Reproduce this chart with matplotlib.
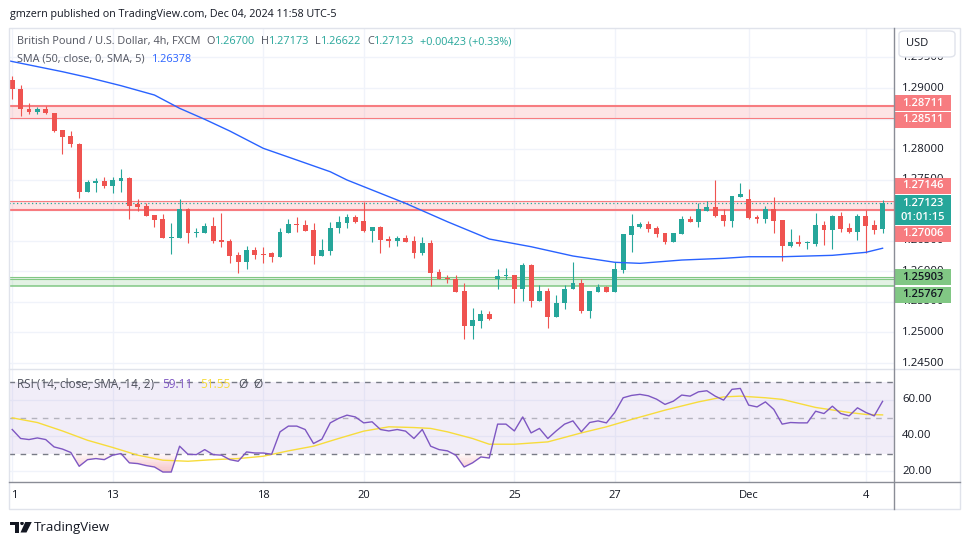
import numpy as np
import matplotlib
matplotlib.use("Agg")
import matplotlib.pyplot as plt
import matplotlib.transforms as mtransforms
from matplotlib.patches import Rectangle, FancyBboxPatch, Polygon, Circle
from matplotlib.lines import Line2D

# ---------------- data (GBP/USD 4h, FXCM) ----------------
opens = [1.29131, 1.28979, 1.28651, 1.28612, 1.28651, 1.28586, 1.28313, 1.28214, 1.28084, 1.27303,
         1.27450, 1.27478, 1.27401, 1.27483, 1.27532, 1.27097, 1.27074, 1.26922, 1.26856, 1.26545,
         1.26550, 1.27020, 1.26627, 1.26632, 1.26747, 1.26513, 1.26496, 1.26267, 1.26157, 1.26349,
         1.26288, 1.26295, 1.26239, 1.26632, 1.26779, 1.26758, 1.26676, 1.26251, 1.26338, 1.26704,
         1.26796, 1.26884, 1.26824, 1.26665, 1.26730, 1.26529, 1.26501, 1.26545, 1.26496, 1.26305,
         1.26468, 1.25989, 1.25886, 1.25874, 1.25678, 1.25110, 1.25192, 1.25302, 1.25874, 1.25928,
         1.25940, 1.25716, 1.26104, 1.25519, 1.25678, 1.25258, 1.25477, 1.25706, 1.25804, 1.25356,
         1.25667, 1.25748, 1.25667, 1.26022, 1.26595, 1.26730, 1.26774, 1.26714, 1.26632, 1.26488,
         1.26611, 1.26856, 1.26812, 1.26992, 1.27053, 1.26922, 1.26829, 1.27221, 1.27184, 1.26894,
         1.26851, 1.27015, 1.26840, 1.26419, 1.26480, 1.26468, 1.26452, 1.26758, 1.26676, 1.26905,
         1.26714, 1.26644, 1.26905, 1.26758, 1.26700]
highs = [1.29196, 1.29049, 1.28750, 1.28694, 1.28710, 1.28586, 1.28313, 1.28296, 1.28095, 1.27495,
         1.27532, 1.27548, 1.27548, 1.27674, 1.27548, 1.27184, 1.27123, 1.26922, 1.26938, 1.26786,
         1.27184, 1.27031, 1.26704, 1.26786, 1.26894, 1.26959, 1.26529, 1.26311, 1.26414, 1.26393,
         1.26393, 1.26316, 1.26704, 1.26851, 1.26894, 1.26836, 1.26786, 1.26529, 1.26802, 1.26908,
         1.26938, 1.26922, 1.27130, 1.26730, 1.26747, 1.26578, 1.26578, 1.26595, 1.26578, 1.26567,
         1.26513, 1.26043, 1.25940, 1.25940, 1.25804, 1.25405, 1.25367, 1.25351, 1.26038, 1.26050,
         1.25940, 1.26141, 1.26120, 1.25771, 1.25722, 1.25613, 1.25776, 1.26153, 1.25870, 1.25678,
         1.25793, 1.25765, 1.26157, 1.26611, 1.26938, 1.26812, 1.26829, 1.26742, 1.26632, 1.26632,
         1.26905, 1.26905, 1.27113, 1.27151, 1.27495, 1.27015, 1.27233, 1.27450, 1.27347, 1.26930,
         1.27074, 1.27221, 1.26840, 1.26688, 1.26595, 1.26496, 1.26955, 1.26829, 1.26922, 1.26976,
         1.26786, 1.26938, 1.27004, 1.26840, 1.27173]
lows = [1.28815, 1.28547, 1.28570, 1.28570, 1.28570, 1.28285, 1.27915, 1.28039, 1.27195, 1.27303,
        1.27303, 1.27359, 1.27287, 1.27303, 1.26861, 1.26992, 1.26910, 1.26730, 1.26550, 1.26283,
        1.26550, 1.26463, 1.26567, 1.26632, 1.26468, 1.26403, 1.26141, 1.25968, 1.26038, 1.26202,
        1.26131, 1.26148, 1.26234, 1.26632, 1.26648, 1.26665, 1.26120, 1.26246, 1.26272, 1.26622,
        1.26714, 1.26796, 1.26639, 1.26488, 1.26305, 1.26403, 1.26419, 1.26488, 1.26223, 1.26262,
        1.25760, 1.25870, 1.25814, 1.25667, 1.24886, 1.24888, 1.25078, 1.25204, 1.25706, 1.25874,
        1.25487, 1.25519, 1.25421, 1.25519, 1.25068, 1.25248, 1.25379, 1.25706, 1.25313, 1.25241,
        1.25667, 1.25667, 1.25667, 1.25978, 1.26321, 1.26704, 1.26639, 1.26570, 1.26455, 1.26475,
        1.26611, 1.26812, 1.26720, 1.26992, 1.26894, 1.26736, 1.26720, 1.27221, 1.26856, 1.26796,
        1.26786, 1.26622, 1.26174, 1.26403, 1.26419, 1.26365, 1.26419, 1.26431, 1.26361, 1.26648,
        1.26622, 1.26513, 1.26295, 1.26606, 1.26622]
closes = [1.28979, 1.28651, 1.28612, 1.28656, 1.28586, 1.28301, 1.28203, 1.28079, 1.27303, 1.27457,
          1.27478, 1.27401, 1.27495, 1.27532, 1.27074, 1.27058, 1.26910, 1.26840, 1.26550, 1.26557,
          1.27020, 1.26632, 1.26648, 1.26747, 1.26496, 1.26480, 1.26256, 1.26153, 1.26349, 1.26267,
          1.26272, 1.26239, 1.26648, 1.26774, 1.26758, 1.26665, 1.26251, 1.26349, 1.26704, 1.26802,
          1.26884, 1.26812, 1.26665, 1.26720, 1.26513, 1.26501, 1.26545, 1.26488, 1.26305, 1.26468,
          1.25978, 1.25870, 1.25870, 1.25667, 1.25110, 1.25204, 1.25302, 1.25220, 1.25924, 1.25935,
          1.25716, 1.26104, 1.25519, 1.25678, 1.25258, 1.25477, 1.25711, 1.25804, 1.25356, 1.25678,
          1.25748, 1.25667, 1.26038, 1.26611, 1.26742, 1.26774, 1.26693, 1.26611, 1.26488, 1.26632,
          1.26856, 1.26812, 1.27015, 1.27053, 1.26910, 1.26829, 1.27233, 1.27265, 1.26878, 1.26851,
          1.27015, 1.26829, 1.26419, 1.26480, 1.26442, 1.26480, 1.26758, 1.26676, 1.26905, 1.26693,
          1.26644, 1.26905, 1.26747, 1.26676, 1.27123]

# SMA(50) read at selected bars
sma_idx = [-0.3, 6, 9, 13, 17, 20, 23, 26, 30, 34, 38, 40, 47, 52, 57, 62, 67, 72, 75, 80, 85, 88, 92, 98, 102, 104]
sma_val = [1.29442, 1.29267, 1.29175, 1.29038, 1.28885, 1.28668, 1.28488, 1.28296, 1.28013, 1.27822,
           1.27630, 1.27495, 1.27113, 1.26812, 1.26529, 1.26403, 1.26251, 1.26148, 1.26131, 1.26185,
           1.26213, 1.26239, 1.26239, 1.26262, 1.26311, 1.26378]

rsi = [43.4, 38.4, 37.8, 38.7, 37.8, 33.7, 32.5, 30.6, 22.9, 26.6,
       27.2, 26.6, 29.1, 30.0, 24.8, 24.4, 23.3, 22.5, 19.7, 19.7,
       34.1, 29.6, 29.4, 32.2, 29.4, 29.1, 26.6, 25.7, 30.9, 30.3,
       30.3, 29.6, 42.1, 45.3, 45.3, 43.4, 35.6, 38.0, 47.1, 49.6,
       51.4, 50.4, 47.1, 47.7, 43.4, 42.6, 43.4, 42.5, 38.4, 43.4,
       34.1, 32.2, 31.5, 29.1, 22.5, 24.8, 28.1, 27.5, 46.4, 46.4,
       42.6, 50.4, 41.5, 44.0, 38.4, 42.6, 46.4, 48.2, 42.1, 47.3,
       48.2, 47.1, 52.9, 61.1, 62.4, 63.0, 62.2, 60.3, 57.4, 59.2,
       62.6, 62.0, 64.4, 65.0, 62.0, 59.8, 65.8, 66.3, 57.0, 56.0,
       58.8, 54.6, 46.4, 47.3, 47.1, 47.1, 53.6, 52.3, 56.4, 52.3,
       51.0, 55.5, 52.9, 51.0, 59.11]

rsi_ma_idx = [0, 3, 6, 9, 12, 15, 18, 21, 24, 27, 30, 33, 36, 39, 42, 45, 48, 50, 52, 55,
              57, 60, 64, 68, 71, 74, 78, 82, 85, 87, 90, 92, 96, 100, 102, 104]
rsi_ma_val = [49.9, 47.3, 42.6, 37.4, 33.4, 29.1, 26.3, 25.7, 26.6, 27.2, 28.5, 31.5, 34.1, 38.4,
              42.5, 44.9, 44.5, 44.0, 42.1, 38.4, 35.2, 35.2, 36.5, 41.5, 44.9, 49.0, 54.2, 58.8,
              61.6, 62.0, 61.1, 60.2, 55.7, 52.9, 51.8, 51.55]

day_idx = [0, 12, 30, 42, 60, 72, 88, 102]
day_labels = ["1", "13", "18", "20", "25", "27", "Dec", "4"]

price_ticks = [1.245, 1.250, 1.255, 1.260, 1.265, 1.270, 1.275, 1.280, 1.285, 1.290, 1.295]
hidden_ticks = [1.270, 1.285]   # fully covered by the price tags
rsi_ticks = [20, 40, 60]

red_zones = [(1.28511, 1.28711), (1.27006, 1.27146)]
green_zone = (1.25767, 1.25903)
green_mid = 1.25870
last_price = 1.27123

# ---------------- style ----------------
UP, DOWN = "#26a69a", "#ef5350"
ZONE_RED, ZONE_GREEN = "#f77c80", "#81c784"
SMA_C, RSI_C, RSI_MA_C = "#2962ff", "#7e57c2", "#f7dc3b"
TXT, LEG = "#131722", "#50535e"
GRID, BORDER, SEP = "#f0f3fa", "#e0e3eb", "#8a8d96"
FONT = ["Open Sans", "DejaVu Sans"]
plt.rcParams["font.family"] = FONT

W, H = 970, 545
fig = plt.figure(figsize=(W / 100, H / 100), dpi=100)
fig.patch.set_facecolor("white")


def box(x0, y0, x1, y1):
    return [x0 / W, 1 - y1 / H, (x1 - x0) / W, (y1 - y0) / H]


def fx(x):
    return x / W


def fy(y):
    return 1 - y / H


ax = fig.add_axes(box(9.3, 27.7, 894.3, 369.3))
ax_rsi = fig.add_axes(box(9.3, 369.6, 894.3, 482.3))
for a in (ax, ax_rsi):
    for s in a.spines.values():
        s.set_visible(False)
    a.set_xlim(-0.35, 105.4)
    a.tick_params(left=False, labelleft=False, bottom=False, labelbottom=False)
    for d in day_idx:
        a.axvline(d, color=GRID, lw=1, zorder=0)

ax.set_ylim(1.24397, 1.29987)
ax_rsi.set_ylim(13.97, 76.8)

for p in price_ticks:
    ax.axhline(p, color=GRID, lw=1, zorder=0)
for v in rsi_ticks:
    ax_rsi.axhline(v, color=GRID, lw=1, zorder=0)

# zones
for lo, hi in red_zones:
    ax.axhspan(lo, hi, color=ZONE_RED, alpha=0.2, lw=0, zorder=1)
ax.axhline(red_zones[0][1], color=ZONE_RED, lw=1.5, zorder=1.5)
ax.axhline(red_zones[0][0], color=ZONE_RED, lw=0.8, zorder=1.5)
ax.axhline(red_zones[1][1], color=ZONE_RED, lw=0.8, zorder=1.5)
ax.axhline(red_zones[1][0], color=ZONE_RED, lw=1.5, zorder=1.5)
ax.axhspan(green_zone[0], green_zone[1], color=ZONE_GREEN, alpha=0.22, lw=0, zorder=1)
ax.axhline(green_zone[1], color=ZONE_GREEN, lw=0.8, zorder=1.5)
ax.axhline(green_mid, color=ZONE_GREEN, lw=0.8, zorder=1.5)
ax.axhline(green_zone[0], color=ZONE_GREEN, lw=1.1, zorder=1.5)
ax.axhline(last_price, color=UP, lw=0.9, ls=(0, (1, 2)), zorder=1.6)

# candles
x = np.arange(len(opens))
o, h, l, c = map(np.array, (opens, highs, lows, closes))
cols = np.where(c >= o, UP, DOWN)
ax.vlines(x, l, h, colors=cols, lw=0.8, zorder=3)
body = np.maximum(np.abs(c - o), 0.00017)
ax.bar(x, body, bottom=np.minimum(o, c), width=0.58, color=cols, lw=0, zorder=3)

ax.plot(sma_idx, sma_val, color=SMA_C, lw=1, zorder=4)

# RSI pane
ax_rsi.axhspan(30, 70, color=RSI_C, alpha=0.1, lw=0, zorder=0.5)
for lvl, al in ((70, 1), (50, 0.5), (30, 1)):
    ax_rsi.axhline(lvl, color="#787b86", lw=1, ls=(0, (4, 4)), alpha=al, zorder=1)
rsi_a = np.array(rsi)
for t in np.linspace(30, 19, 10):
    ax_rsi.fill_between(x, rsi_a, t, where=rsi_a < t, interpolate=True,
                        color="#f23645", alpha=0.035, lw=0, zorder=1.2)
ax_rsi.plot(rsi_ma_idx, rsi_ma_val, color=RSI_MA_C, lw=1, zorder=2)
ax_rsi.plot(x, rsi, color=RSI_C, lw=1, zorder=3)


# frame lines
def fline(x0, y0, x1, y1, color, lw=1):
    fig.add_artist(Line2D([fx(x0), fx(x1)], [fy(y0), fy(y1)], color=color, lw=lw,
                          transform=fig.transFigure))


fig.add_artist(Rectangle((fx(9.3), fy(509.3)), fx(960) - fx(9.3), fy(27.7) - fy(509.3),
                         fill=False, ec=BORDER, lw=1, transform=fig.transFigure))
fline(9.3, 369.4, 960, 369.4, BORDER)
fline(894.3, 27.7, 894.3, 509.3, SEP)
fline(9.3, 482.3, 960, 482.3, SEP)

# price axis labels
ptrans = mtransforms.blended_transform_factory(fig.transFigure, ax.transData)
for p in price_ticks:
    if p in hidden_ticks:
        continue
    ax.text(fx(902), p, f"{p:.5f}", transform=ptrans, fontsize=8.2, color=TXT,
            va="center", ha="left", clip_on=False)
rtrans = mtransforms.blended_transform_factory(fig.transFigure, ax_rsi.transData)
for v in rsi_ticks:
    ax_rsi.text(fx(902), v, f"{v:.2f}", transform=rtrans, fontsize=8.2, color=TXT,
                va="center", ha="left", clip_on=False)

# price label boxes (text, top px, bottom px, face, text colour)
tags = [("1.28711", 95, 111, ZONE_RED, "white"),
        ("1.28511", 111.5, 127.5, ZONE_RED, "white"),
        ("1.27146", 178, 194, ZONE_RED, "white"),
        ("1.27123\n01:01:15", 195, 225.5, UP, "white"),
        ("1.27006", 226, 242, ZONE_RED, "white"),
        ("1.25903", 269.5, 285.5, ZONE_GREEN, TXT),
        ("1.25767", 286.5, 302.5, ZONE_GREEN, TXT)]
for s, y0, y1, fc, tc in tags:
    fig.add_artist(Rectangle((fx(895), fy(y1)), fx(951) - fx(895), fy(y0) - fy(y1),
                             fc=fc, ec="none", transform=fig.transFigure))
    fig.text(fx(923), fy((y0 + y1) / 2), s, fontsize=8.0, color=tc, ha="center",
             va="center", fontweight="semibold", linespacing=1.35)

# USD box
fig.add_artist(FancyBboxPatch((fx(899), fy(57)), fx(955) - fx(899), fy(31) - fy(57),
                              boxstyle="round,pad=0,rounding_size=0.006", fc="white",
                              ec=BORDER, lw=1, transform=fig.transFigure))
fig.text(fx(906), fy(44), "USD", fontsize=8.0, color=TXT, ha="left", va="center")

# time axis labels
for d, lab in zip(day_idx, day_labels):
    xx = ax_rsi.transData.transform((d, 0))[0]
    fig.text(fx(max(xx, 14)), fy(495.7), lab, fontsize=8.0, color=TXT, ha="center", va="center")

# header and legends
fig.text(fx(10), fy(15), "gmzern published on TradingView.com, Dec 04, 2024 11:58 UTC-5",
         fontsize=7.75, color=TXT, ha="left", va="center")

renderer = fig.canvas.get_renderer()


def runs(x0, y, parts, size=7.8):
    xx = x0
    for s, col, gap in parts:
        t = fig.text(fx(xx), fy(y), s, fontsize=size, color=col, ha="left", va="center")
        xx += t.get_window_extent(renderer).width + gap


runs(16.7, 41.7, [("British Pound / U.S. Dollar, 4h, FXCM", LEG, 6),
                  ("O", LEG, 0), ("1.26700", UP, 6), ("H", LEG, 0), ("1.27173", UP, 6),
                  ("L", LEG, 0), ("1.26622", UP, 6), ("C", LEG, 0), ("1.27123", UP, 6),
                  ("+0.00423 (+0.33%)", UP, 0)])
runs(16.7, 59, [("SMA (50, close, 0, SMA, 5)", LEG, 8), ("1.26378", SMA_C, 0)])
runs(16.7, 384.3, [("RSI (14, close, SMA, 14, 2)", LEG, 8), ("59.11", RSI_C, 8),
                   ("51.55", RSI_MA_C, 8), ("Ø", LEG, 6), ("Ø", LEG, 0)], size=8.5)

# TradingView logo
lax = fig.add_axes(box(10, 521.5, 32, 532.5))
lax.set_xlim(0, 22)
lax.set_ylim(11, 0)
lax.axis("off")
lax.add_patch(Polygon([(0, 0), (9.3, 0), (9.3, 11), (5, 11), (5, 3.6), (0, 3.6)], fc=TXT, ec="none"))
lax.add_patch(Circle((12, 1.8), 1.8, fc=TXT, ec="none"))
lax.add_patch(Polygon([(15.5, 0), (22, 0), (16.5, 11), (10.5, 11)], fc=TXT, ec="none"))
fig.text(fx(34), fy(527), "TradingView", fontsize=9.5, color=TXT, ha="left", va="center")

fig.savefig("out.png", dpi=100)
